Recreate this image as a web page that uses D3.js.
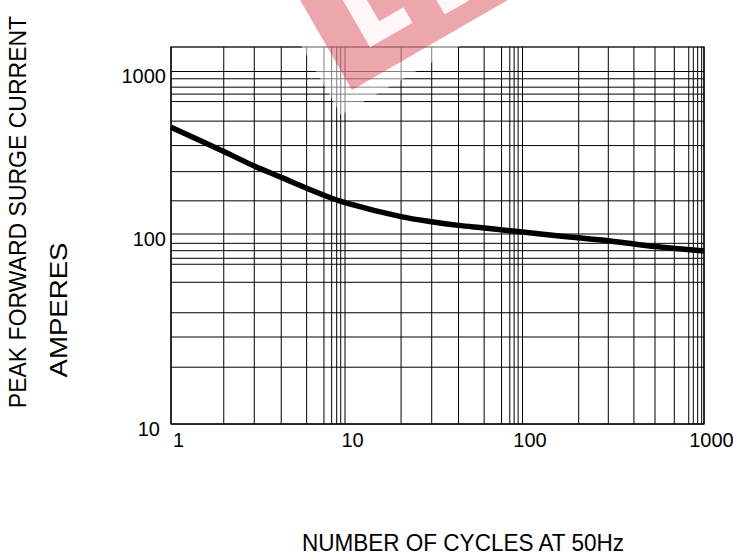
<!DOCTYPE html>
<html>
<head>
<meta charset="utf-8">
<script src="https://cdn.jsdelivr.net/npm/d3@7"></script>
<style>
  body { margin: 0; background: #fff; }
  svg { display: block; font-family: "Liberation Sans", Arial, sans-serif; }
</style>
</head>
<body>
<svg id="chart"></svg>
<script>
// surge curve
const cycles = [1, 2.01, 3.01, 4.3, 6.02, 8.38, 10, 20.7, 30.7, 43.5, 60.8, 76.2, 100, 160, 203, 297, 413, 537, 692, 1000];
const amps = [454, 322, 262, 223, 191, 166, 156, 128, 119, 113, 109, 106, 103, 97.6, 95.5, 92.1, 88.6, 85.9, 83.9, 81.4];

// tick labels
const xTicks = [1, 10, 100, 1000];
const yTicks = [10, 100, 1000];

// grid lines of the printed log paper (not evenly spaced)
const xGrid = [2.01, 3.01, 4.3, 6.02, 7.57, 8.38, 8.96, 9.45,
  20.7, 30.8, 43.6, 60.8, 76.2, 84.8, 89.7, 94.5,
  204, 297, 411, 537, 686, 824, 873, 923, 971];
const yGrid = [19.9, 28.7, 38.5, 55.7, 69.3, 74.5, 81.7, 89.3,
  160, 242, 350, 495, 653, 726, 801, 902];

const config = {
  containerWidth: 733,
  containerHeight: 555,
  margin: {top: 47, right: 29, bottom: 131, left: 171}
};
const width = config.containerWidth - config.margin.left - config.margin.right;
const height = config.containerHeight - config.margin.top - config.margin.bottom;

const svg = d3.select('#chart')
  .attr('width', config.containerWidth)
  .attr('height', config.containerHeight);

const chart = svg.append('g')
  .attr('transform', `translate(${config.margin.left},${config.margin.top})`);

// decades are not the same size on the scan, so piecewise log scales
const xScale = d3.scaleLog()
  .domain([1, 10, 100, 1000])
  .range([0, 174, 351.5, width]);
const yScale = d3.scaleLog()
  .domain([10, 100, 1000, 1413])
  .range([height, 187, 24.5, 0]);

// grid
chart.append('g').selectAll('line')
  .data(xGrid.concat(xTicks))
  .join('line')
  .attr('x1', d => xScale(d)).attr('x2', d => xScale(d))
  .attr('y1', 0).attr('y2', height)
  .attr('stroke', '#000').attr('stroke-width', 1);

chart.append('g').selectAll('line')
  .data(yGrid.concat(yTicks))
  .join('line')
  .attr('x1', 0).attr('x2', width)
  .attr('y1', d => yScale(d)).attr('y2', d => yScale(d))
  .attr('stroke', '#000').attr('stroke-width', 1);

chart.append('rect')
  .attr('width', width).attr('height', height)
  .attr('fill', 'none').attr('stroke', '#000').attr('stroke-width', 1.3);

// watermark logo, partly visible at the top
const wm = svg.append('g').attr('transform', 'translate(352,90) rotate(-30)');
wm.append('rect')
  .attr('x', -22).attr('y', -260).attr('width', 300).attr('height', 276)
  .attr('fill', '#fff').attr('opacity', 0.5);
wm.append('rect')
  .attr('x', 0).attr('y', -260).attr('width', 260).attr('height', 260)
  .attr('fill', '#d42a37').attr('opacity', 0.42);
wm.append('path')
  .attr('d', 'M37,-110 L58,-110 L58,-46 L86,-46 L86,-28 L37,-28 Z')
  .attr('fill', '#fff').attr('opacity', 0.9);
wm.append('path')
  .attr('d', 'M118,-36 L165,-36 L165,-19 L118,-19 Z')
  .attr('fill', '#fff').attr('opacity', 0.9);

// curve
const points = cycles.map((c, i) => [c, amps[i]]);
const line = d3.line()
  .x(d => xScale(d[0]))
  .y(d => yScale(d[1]))
  .curve(d3.curveCatmullRom.alpha(0.5));

chart.append('path')
  .datum(points)
  .attr('d', line)
  .attr('fill', 'none')
  .attr('stroke', '#000')
  .attr('stroke-width', 5.5);

// axes (labels only, the grid does the rest)
const xAxisG = chart.append('g')
  .attr('transform', `translate(0,${height})`)
  .call(d3.axisBottom(xScale).tickValues(xTicks).tickFormat(d3.format('d')).tickSize(0).tickPadding(9));
xAxisG.select('.domain').remove();
xAxisG.selectAll('text')
  .attr('dx', 7)
  .attr('fill', '#000')
  .style('font-size', '20px');

const yAxisG = chart.append('g')
  .call(d3.axisLeft(yScale).tickValues(yTicks).tickFormat(d3.format('d')).tickSize(0).tickPadding(5));
yAxisG.select('.domain').remove();
yAxisG.selectAll('text')
  .attr('dy', '0.55em')
  .attr('fill', '#000')
  .style('font-size', '20px');
// the bottom label sits a little further left on the scan
yAxisG.selectAll('.tick').filter(d => d === 10).select('text').attr('dx', -6);

// axis titles
svg.append('text')
  .attr('x', 463)
  .attr('y', 551)
  .attr('text-anchor', 'middle')
  .attr('textLength', 322)
  .attr('lengthAdjust', 'spacingAndGlyphs')
  .style('font-size', '24px')
  .text('NUMBER OF CYCLES AT 50Hz');

svg.append('text')
  .attr('transform', 'translate(26,212) rotate(-90)')
  .attr('text-anchor', 'middle')
  .style('font-size', '23px')
  .text('PEAK FORWARD SURGE CURRENT');

svg.append('text')
  .attr('transform', 'translate(67,310) rotate(-90)')
  .attr('text-anchor', 'middle')
  .attr('textLength', 135)
  .attr('lengthAdjust', 'spacingAndGlyphs')
  .style('font-size', '24px')
  .text('AMPERES');
</script>
</body>
</html>
